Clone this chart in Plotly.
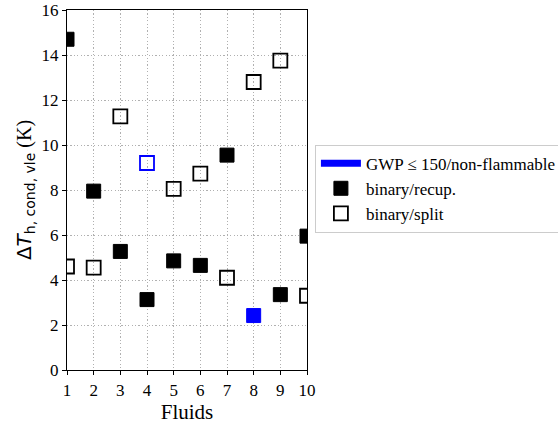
import plotly.graph_objects as go

fluids = [1, 2, 3, 4, 5, 6, 7, 8, 9, 10]
recup = [14.7, 7.95, 5.27, 3.13, 4.85, 4.65, 9.55, 2.42, 3.35, 5.95]
split = [4.6, 4.55, 11.27, 9.2, 8.05, 8.73, 4.1, 12.8, 13.75, 3.3]
recup_colors = ["black"] * 7 + ["blue"] + ["black"] * 2
split_colors = ["black"] * 3 + ["blue"] + ["black"] * 6

FONT = "Liberation Serif"

fig = go.Figure()
fig.add_trace(go.Scatter(x=[None], y=[None], mode="lines",
                         line=dict(color="blue", width=7),
                         name="GWP ≤ 150/non-flammable"))
fig.add_trace(go.Scatter(x=fluids, y=recup, mode="markers", name="binary/recup.",
                         marker=dict(symbol="square", size=14, color=recup_colors,
                                     line=dict(color=recup_colors, width=1))))
fig.add_trace(go.Scatter(x=fluids, y=split, mode="markers", name="binary/split",
                         marker=dict(symbol="square-open", size=14, color=split_colors,
                                     line=dict(color=split_colors, width=1.8))))

axis_common = dict(showline=True, linecolor="black", linewidth=1.3, mirror=True,
                   showgrid=True, gridcolor="#b0b0b0", griddash="1.2px,2.2px", gridwidth=1,
                   ticks="outside", ticklen=4, tickcolor="black", zeroline=False,
                   automargin=False,
                   tickfont=dict(family=FONT, size=17, color="black"))

ytitle = ("<span style='font-family:DejaVu Sans'>Δ<i>T</i>"
          "<sub>h, cond, vle</sub></span> (K)")

fig.update_layout(
    width=558, height=426,
    margin=dict(l=67, r=251, t=10, b=56, autoexpand=False),
    paper_bgcolor="white", plot_bgcolor="white",
    font=dict(family=FONT, color="black"),
    xaxis=dict(range=[1, 10], tickvals=fluids, **axis_common,
               title=dict(text="Fluids", font=dict(family=FONT, size=21), standoff=4)),
    yaxis=dict(range=[0, 16], tickvals=[0, 2, 4, 6, 8, 10, 12, 14, 16], **axis_common,
               title=dict(text=ytitle, font=dict(family=FONT, size=20), standoff=4)),
    legend=dict(x=1.033, y=0.626, xanchor="left", yanchor="top",
                bordercolor="#cccccc", borderwidth=1, bgcolor="white",
                font=dict(family=FONT, size=17), tracegroupgap=0, itemwidth=40),
    showlegend=True,
)

fig.write_html("out.html")
